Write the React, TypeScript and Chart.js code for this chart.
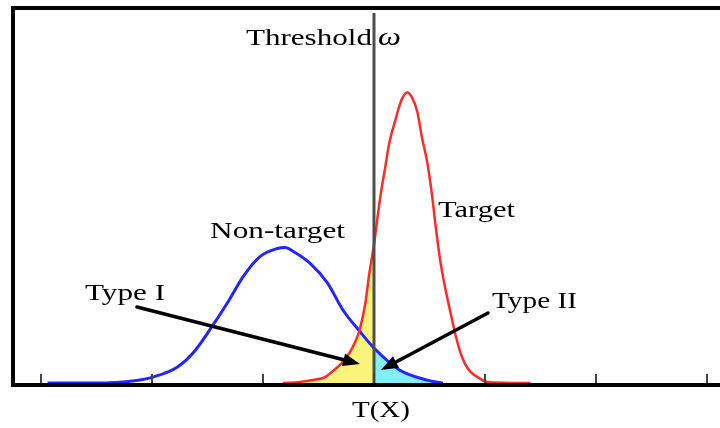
import { useEffect, useRef } from "react";
import { Chart, registerables } from "chart.js";

Chart.register(...registerables);

// Decision threshold on the score axis T(X)
const THRESHOLD = 3.0;
const THRESHOLD_TOP = 98.7;
const TICK_VALUES = [0, 1, 2, 3, 4, 5, 6];

// Non-target score distribution
const nonTargetX = [0.06, 0.53, 0.74, 0.89, 1.01, 1.23, 1.37, 1.52, 1.68, 1.82, 1.97, 2.13, 2.2, 2.27, 2.42, 2.58, 2.72, 2.87, 3.0, 3.23, 3.48, 3.62];
const nonTargetY = [0.5, 0.5, 0.8, 1.3, 2.1, 4.8, 8.5, 14.6, 21.8, 28.7, 34.0, 36.2, 36.5, 35.5, 32.4, 27.1, 19.9, 14.3, 9.8, 4.0, 1.3, 0.5];

// Target score distribution
const targetX = [2.18, 2.33, 2.45, 2.56, 2.63, 2.71, 2.78, 2.83, 2.87, 2.92, 2.96, 3.0, 3.03, 3.06, 3.1, 3.14, 3.19, 3.25, 3.3, 3.34, 3.39, 3.43, 3.48, 3.52, 3.56, 3.6, 3.64, 3.69, 3.73, 3.78, 3.82, 3.87, 3.96, 4.02, 4.41];
const targetY = [0.5, 0.8, 1.3, 2.1, 3.7, 5.8, 8.5, 11.4, 14.6, 21.3, 30.0, 37.2, 44.0, 50.5, 57.5, 64.5, 70.0, 75.8, 77.6, 76.4, 72.5, 66.0, 59.0, 51.0, 41.0, 32.4, 26.0, 19.1, 13.8, 8.5, 5.6, 3.5, 1.6, 0.8, 0.5];

// Text labels: anchor in data units (centre x, baseline y) and drawn width in px
const LABELS = [
  { text: "Threshold", x: 2.414, y: 90.2, w: 126 },
  { text: "Non-target", x: 2.131, y: 39.0, w: 135 },
  { text: "Type I", x: 0.757, y: 22.5, w: 80 },
  { text: "Target", x: 3.923, y: 44.6, w: 77 },
  { text: "Type II", x: 4.446, y: 20.4, w: 85 },
  { text: "T(X)", x: 3.063, y: -8.5, w: 58 },
];
const OMEGA = { text: "\u03c9", x: 3.036, y: 90.2 };

// Arrows pointing at the two error regions (from, to) in data units
const ARROWS = [
  { x0: 0.865, y0: 20.7, x1: 2.874, y1: 5.6 },
  { x0: 4.027, y0: 19.1, x1: 3.063, y1: 4.0 },
];

const toPoints = (xs: number[], ys: number[]) => xs.map((x, i) => ({ x, y: ys[i] }));

const FONT = '"Liberation Serif", "Times New Roman", serif';

const overlayPlugin = {
  id: "overlay",
  afterDatasetsDraw(chart: any) {
    const { ctx, chartArea } = chart;
    const xs = chart.scales.x;
    const ys = chart.scales.y;
    ctx.save();

    // axis tick marks along the bottom
    ctx.strokeStyle = "#444";
    ctx.lineWidth = 2;
    TICK_VALUES.forEach((v) => {
      const px = Math.round(xs.getPixelForValue(v));
      ctx.beginPath();
      ctx.moveTo(px, chartArea.bottom);
      ctx.lineTo(px, chartArea.bottom - 11);
      ctx.stroke();
    });

    // frame
    ctx.strokeStyle = "#000";
    ctx.lineWidth = 4;
    ctx.beginPath();
    ctx.moveTo(chartArea.right + 4, chartArea.top);
    ctx.lineTo(chartArea.left, chartArea.top);
    ctx.lineTo(chartArea.left, chartArea.bottom);
    ctx.lineTo(chartArea.right + 4, chartArea.bottom);
    ctx.stroke();

    // arrows
    ARROWS.forEach((a) => {
      const x0 = xs.getPixelForValue(a.x0);
      const y0 = ys.getPixelForValue(a.y0);
      const x1 = xs.getPixelForValue(a.x1);
      const y1 = ys.getPixelForValue(a.y1);
      const ang = Math.atan2(y1 - y0, x1 - x0);
      const headLen = 17;
      const headHalf = 6.5;
      const bx = x1 - headLen * Math.cos(ang);
      const by = y1 - headLen * Math.sin(ang);
      ctx.strokeStyle = "#000";
      ctx.fillStyle = "#000";
      ctx.lineWidth = 3.5;
      ctx.lineCap = "round";
      ctx.beginPath();
      ctx.moveTo(x0, y0);
      ctx.lineTo(bx, by);
      ctx.stroke();
      ctx.beginPath();
      ctx.moveTo(x1, y1);
      ctx.lineTo(bx + headHalf * Math.sin(ang), by - headHalf * Math.cos(ang));
      ctx.lineTo(bx - headHalf * Math.sin(ang), by + headHalf * Math.cos(ang));
      ctx.closePath();
      ctx.fill();
    });

    // labels
    ctx.fillStyle = "#000";
    ctx.textBaseline = "alphabetic";
    LABELS.forEach((l) => {
      ctx.font = `24px ${FONT}`;
      const m = ctx.measureText(l.text).width;
      const sx = l.w / m;
      ctx.save();
      ctx.translate(xs.getPixelForValue(l.x), ys.getPixelForValue(l.y));
      ctx.scale(sx, 1);
      ctx.textAlign = "center";
      ctx.fillText(l.text, 0, 0);
      ctx.restore();
    });
    ctx.font = `italic 25px ${FONT}`;
    ctx.save();
    ctx.translate(xs.getPixelForValue(OMEGA.x), ys.getPixelForValue(OMEGA.y));
    ctx.scale(1.3, 1);
    ctx.textAlign = "left";
    ctx.fillText(OMEGA.text, 0, 0);
    ctx.restore();

    ctx.restore();
  },
};

export default function App() {
  const canvasRef = useRef<HTMLCanvasElement | null>(null);

  useEffect(() => {
    const canvas = canvasRef.current;
    if (!canvas) return;

    const nonTarget = toPoints(nonTargetX, nonTargetY);
    const target = toPoints(targetX, targetY);
    const typeIRegion = target.filter((p) => p.x <= THRESHOLD);
    const typeIIRegion = nonTarget.filter((p) => p.x >= THRESHOLD);

    const chart = new Chart(canvas, {
      type: "line",
      data: {
        datasets: [
          {
            label: "Threshold",
            data: [
              { x: THRESHOLD, y: 0 },
              { x: THRESHOLD, y: THRESHOLD_TOP },
            ],
            borderColor: "#4d4d4d",
            borderWidth: 3,
            pointRadius: 0,
            tension: 0,
            fill: false,
          },
          {
            label: "Target",
            data: target,
            borderColor: "#ff2a2a",
            borderWidth: 2.5,
            pointRadius: 0,
            cubicInterpolationMode: "monotone",
            fill: false,
          },
          {
            label: "Non-target",
            data: nonTarget,
            borderColor: "#2424ff",
            borderWidth: 3,
            pointRadius: 0,
            cubicInterpolationMode: "monotone",
            fill: false,
          },
          {
            label: "Type I",
            data: typeIRegion,
            borderWidth: 0,
            borderColor: "rgba(0,0,0,0)",
            backgroundColor: "#fbf47c",
            pointRadius: 0,
            cubicInterpolationMode: "monotone",
            fill: "origin",
          },
          {
            label: "Type II",
            data: typeIIRegion,
            borderWidth: 0,
            borderColor: "rgba(0,0,0,0)",
            backgroundColor: "#80eff7",
            pointRadius: 0,
            cubicInterpolationMode: "monotone",
            fill: "origin",
          },
        ],
      },
      options: {
        responsive: false,
        animation: false,
        events: [],
        layout: { padding: { left: 13, top: 8, right: 0, bottom: 43 } },
        scales: {
          x: { type: "linear", min: -0.252, max: 6.117, display: false },
          y: { type: "linear", min: 0, max: 100, display: false },
        },
        plugins: {
          legend: { display: false },
          tooltip: { enabled: false },
        },
      },
      plugins: [overlayPlugin],
    });

    return () => chart.destroy();
  }, []);

  return (
    <div style={{ position: "absolute", left: 0, top: 0, width: 720, height: 428, background: "#fff" }}>
      <canvas ref={canvasRef} width={720} height={428} />
    </div>
  );
}
